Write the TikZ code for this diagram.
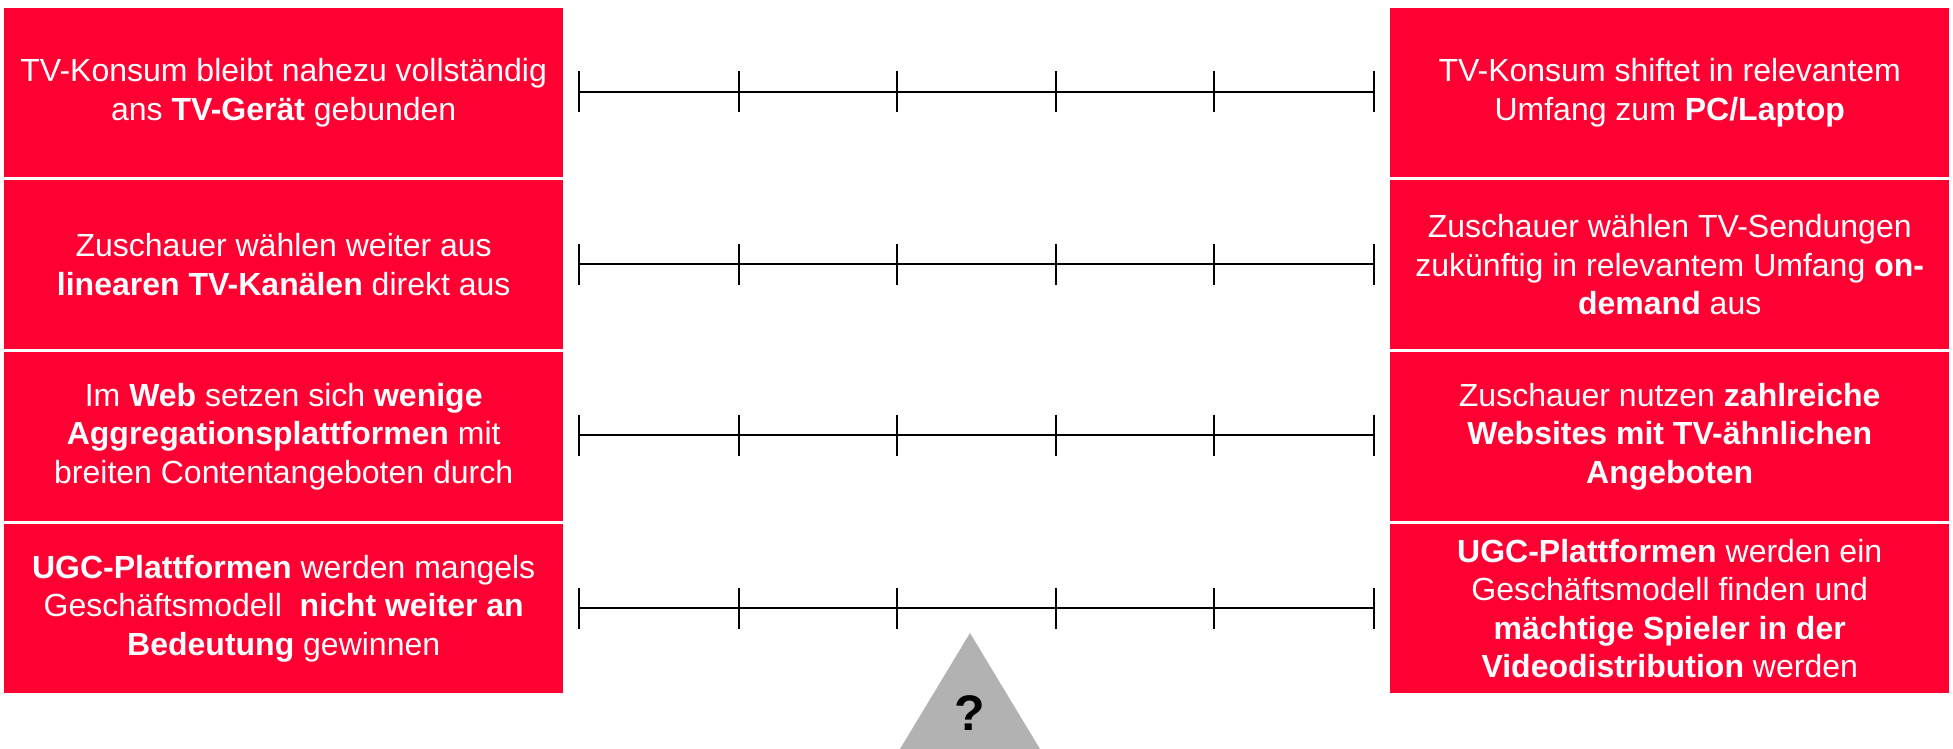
\documentclass[tikz,border=0pt]{standalone}
\usepackage{fontspec}
\setmainfont{Liberation Sans}
\definecolor{boxred}{HTML}{FF0033}
\definecolor{trigray}{HTML}{B2B2B2}
\begin{document}
\begin{tikzpicture}[x=1pt,y=-1pt,
  redbox/.style={fill=boxred, draw=none, minimum width=559pt, minimum height=169pt,
    inner sep=0pt, anchor=north west, text=white, align=center,
    font=\fontsize{32}{38.5}\selectfont},
  axisline/.style={line width=2.2pt, black},
  tickline/.style={line width=1.8pt, black},
]
\useasboundingbox (0,0) rectangle (1953,749);

% left boxes
\node[redbox] (l1) at (4,8) {TV-Konsum bleibt nahezu vollständig\\ans \textbf{TV-Gerät} gebunden};
\node[redbox] (l2) at (4,180) {Zuschauer wählen weiter aus\\\textbf{linearen TV-Kanälen} direkt aus};
\node[redbox] (l3) at (4,352) {Im \textbf{Web} setzen sich \textbf{wenige}\\\textbf{Aggregationsplattformen} mit\\breiten Contentangeboten durch};
\node[redbox] (l4) at (4,524) {\textbf{UGC-Plattformen} werden mangels\\Geschäftsmodell\ \ \textbf{nicht weiter an}\\\textbf{Bedeutung} gewinnen};

% right boxes
\node[redbox] (r1) at (1390,8) {TV-Konsum shiftet in relevantem\\Umfang zum \textbf{PC/Laptop}};
\node[redbox] (r2) at (1390,180) {Zuschauer wählen TV-Sendungen\\zukünftig in relevantem Umfang \textbf{on-}\\\textbf{demand} aus};
\node[redbox] (r3) at (1390,352) {Zuschauer nutzen \textbf{zahlreiche}\\\textbf{Websites mit TV-ähnlichen}\\\textbf{Angeboten}};
\node[redbox] (r4) at (1390,524) {\textbf{UGC-Plattformen} werden ein\\Geschäftsmodell finden und\\\textbf{mächtige Spieler in der}\\\textbf{Videodistribution} werden};

% scales
\foreach \i/\y in {1/92,2/264,3/435,4/608}{
  \coordinate (a\i l) at (579,\y);
  \coordinate (a\i r) at (1374,\y);
  \draw[axisline] (a\i l) -- (a\i r);
  \foreach \x in {579,739,897,1056,1214,1374}{
    \draw[tickline] (\x,\y-20.5) -- (\x,\y+20.5);
  }
}

% triangle with question mark
\fill[trigray] (900,749) -- (970,633) -- (1040,749) -- cycle;
\node[font=\fontsize{50}{56}\selectfont\bfseries, inner sep=0pt] (q) at (970,713) {?};
\end{tikzpicture}
\end{document}
